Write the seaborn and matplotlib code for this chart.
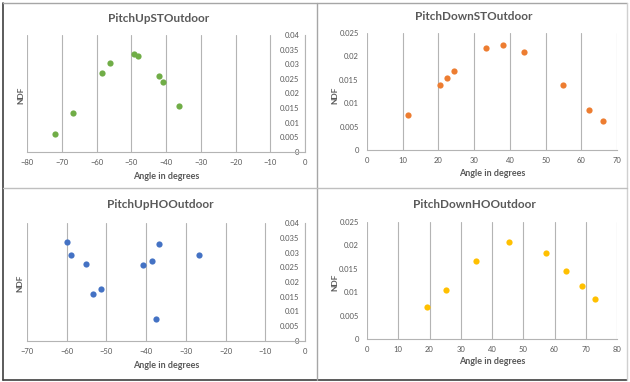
import numpy as np
import pandas as pd
import matplotlib
matplotlib.use("Agg")
import matplotlib.pyplot as plt
from matplotlib.lines import Line2D
from matplotlib.ticker import FuncFormatter, MultipleLocator
import seaborn as sns

# values
up_st_angle = [-72.0, -66.7, -58.5, -56.0, -49.3, -48.0, -42.1, -41.0, -36.2]
up_st_ndf = [0.0063, 0.0133, 0.0269, 0.0303, 0.0334, 0.0328, 0.0259, 0.0240, 0.0158]

down_st_angle = [11.6, 20.4, 22.5, 24.4, 33.2, 38.2, 44.0, 55.0, 62.1, 66.0]
down_st_ndf = [0.0074, 0.0139, 0.0154, 0.0169, 0.0218, 0.0225, 0.0210, 0.0139, 0.0086, 0.0063]

up_ho_angle = [-59.9, -59.0, -55.2, -53.5, -51.4, -40.9, -38.5, -37.4, -36.8, -26.7]
up_ho_ndf = [0.0336, 0.0293, 0.0260, 0.0158, 0.0176, 0.0257, 0.0272, 0.0073, 0.0329, 0.0291]

down_ho_angle = [19.1, 25.2, 34.9, 45.4, 57.2, 63.7, 68.7, 73.0]
down_ho_ndf = [0.0068, 0.0105, 0.0166, 0.0207, 0.0183, 0.0146, 0.0113, 0.0086]

W, H = 630, 382
TXT = "#595959"
GRID = "#b4b4b4"

sns.set_style("white")
plt.rcParams["font.family"] = ["Lato", "DejaVu Sans"]

fig = plt.figure(figsize=(W / 100, H / 100), dpi=100)


def fx(px):
    return px / W


def fy(py):
    return 1 - py / H


def ndf_fmt(v, pos):
    return "%g" % round(v, 4)


panels = [
    # title, x, y, colour, xlim, ylim, ystep, axes box (l, t, r, b px), title xy, xlabel xy, ylabel xy, left side
    ("PitchUpSTOutdoor", up_st_angle, up_st_ndf, "#70AD47", (-80, 0), (0, 0.04), 0.005,
     (27, 35, 305, 152), (159, 18), (166, 176), (21, 95), True),
    ("PitchDownSTOutdoor", down_st_angle, down_st_ndf, "#ED7D31", (0, 70), (0, 0.025), 0.005,
     (367, 33, 617, 150), (474, 16), (492, 174), (335, 95), False),
    ("PitchUpHOOutdoor", up_ho_angle, up_ho_ndf, "#4472C4", (-70, 0), (0, 0.04), 0.005,
     (27, 223, 305, 341), (160, 205), (166, 365), (20, 283), True),
    ("PitchDownHOOutdoor", down_ho_angle, down_ho_ndf, "#FFC000", (0, 80), (0, 0.025), 0.005,
     (367, 222, 617, 339), (474, 204), (492, 362), (335, 282), False),
]

for (title, xs, ys, color, xlim, ylim, ystep, box, tpos, xlpos, ylpos, neg) in panels:
    l, t, r, b = box
    ax = fig.add_axes([fx(l), fy(b), fx(r) - fx(l), fy(t) - fy(b)])
    df = pd.DataFrame({"angle": xs, "ndf": ys})
    sns.scatterplot(data=df, x="angle", y="ndf", color=color, s=20,
                    linewidth=0, ax=ax, zorder=3)
    ax.set_xlim(*xlim)
    ax.set_ylim(*ylim)
    ax.xaxis.set_major_locator(MultipleLocator(10))
    ax.yaxis.set_major_locator(MultipleLocator(ystep))
    ax.yaxis.set_major_formatter(FuncFormatter(ndf_fmt))
    ax.grid(axis="x", color=GRID, linewidth=0.8)
    ax.grid(axis="y", visible=False)
    ax.set_xlabel("")
    ax.set_ylabel("")
    for s in ["top", "right"]:
        ax.spines[s].set_visible(False)
    ax.spines["bottom"].set_color(GRID)
    ax.spines["bottom"].set_linewidth(0.8)
    if neg:
        ax.spines["left"].set_position(("data", 0))
        ax.spines["left"].set_color(GRID)
        ax.spines["left"].set_linewidth(0.8)
        ax.tick_params(axis="y", length=3, width=0.6, color=GRID, pad=1)
    else:
        ax.spines["left"].set_visible(False)
        ax.tick_params(axis="y", length=0, pad=6)
    ax.tick_params(axis="x", length=0, pad=5)
    ax.tick_params(labelsize=5.5, labelcolor=TXT)

    fig.text(fx(tpos[0]), fy(tpos[1]), title, ha="center", va="center",
             fontsize=8.5, fontweight="bold", color=TXT)
    fig.text(fx(xlpos[0]), fy(xlpos[1]), "Angle in degrees", ha="center", va="center",
             fontsize=6.5, fontweight="bold", color=TXT)
    fig.text(fx(ylpos[0]), fy(ylpos[1]), "NDF", ha="center", va="center",
             rotation=90, fontsize=6, fontweight="bold", color=TXT)

# panel frames
frame = [
    ((3, 3), (3, 380), "#404040", 1.2),
    ((3, 380), (627, 380), "#404040", 1.2),
    ((3, 3), (627, 3), "#a6a6a6", 1.0),
    ((627, 3), (627, 380), "#d0d0d0", 1.0),
    ((317, 3), (317, 380), "#a6a6a6", 1.0),
    ((3, 188), (627, 188), "#bfbfbf", 1.0),
]
for (x0, y0), (x1, y1), c, lw in frame:
    fig.add_artist(Line2D([fx(x0), fx(x1)], [fy(y0), fy(y1)], color=c,
                          linewidth=lw, transform=fig.transFigure))

fig.savefig("out.png", dpi=100)
